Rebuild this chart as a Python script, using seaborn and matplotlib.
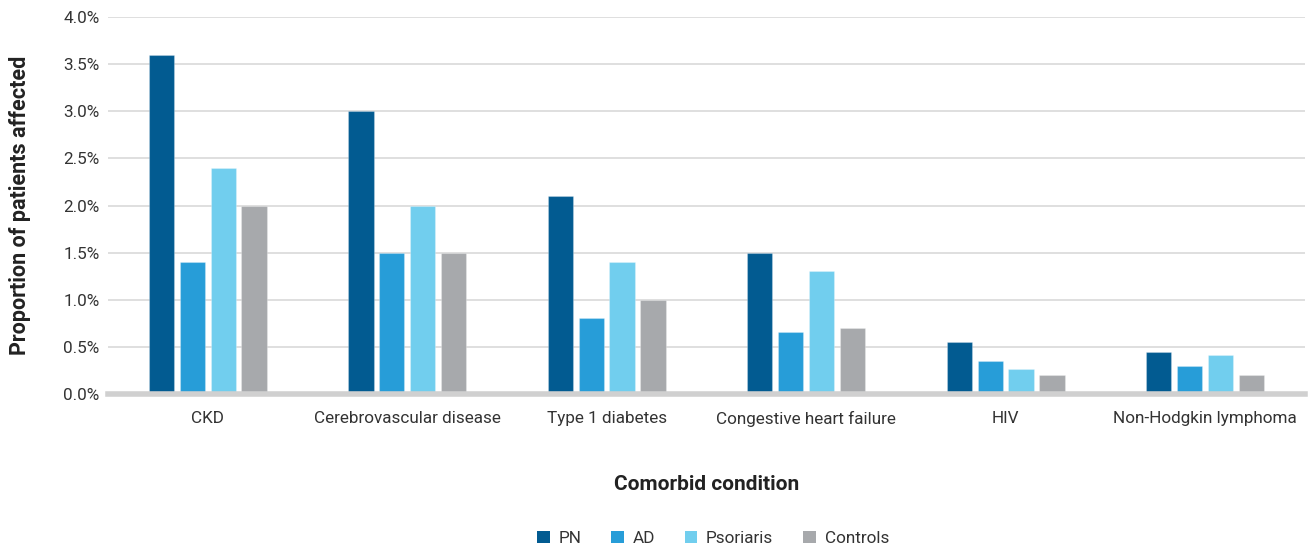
import matplotlib
matplotlib.use("Agg")
import matplotlib.pyplot as plt
import seaborn as sns
import pandas as pd
from matplotlib.patches import Patch
from matplotlib.ticker import FuncFormatter

categories = ["CKD", "Cerebrovascular disease", "Type 1 diabetes",
              "Congestive heart failure", "HIV", "Non-Hodgkin lymphoma"]
series = ["PN", "AD", "Psoriaris", "Controls"]
pn = [3.6, 3.0, 2.1, 1.5, 0.55, 0.45]
ad = [1.4, 1.5, 0.81, 0.66, 0.35, 0.30]
psoriaris = [2.4, 2.0, 1.4, 1.3, 0.265, 0.41]
controls = [2.0, 1.5, 1.0, 0.7, 0.2, 0.2]
yticks = [0.0, 0.5, 1.0, 1.5, 2.0, 2.5, 3.0, 3.5, 4.0]

colors = ["#025B91", "#279DD8", "#71CEEE", "#A7A9AC"]

rows = []
for s, vals in zip(series, [pn, ad, psoriaris, controls]):
    for c, v in zip(categories, vals):
        rows.append({"Condition": c, "Group": s, "Value": v})
df = pd.DataFrame(rows)

sns.set_theme(style="white")
plt.rcParams["font.family"] = ["Roboto", "DejaVu Sans"]

fig = plt.figure(figsize=(13.08, 5.48), dpi=100)
ax = fig.add_axes([0.0826, 0.281, 0.915, 0.688])

sns.barplot(data=df, x="Condition", y="Value", hue="Group",
            order=categories, hue_order=series, palette=colors,
            width=0.62, gap=0.18, ax=ax, legend=False, errorbar=None,
            saturation=1, linewidth=0.8, edgecolor="#ffffff40")

ax.set_ylim(0, 4.0)
ax.set_xlim(-0.5, len(categories) - 0.5)
ax.set_yticks(yticks)
ax.yaxis.set_major_formatter(FuncFormatter(lambda v, p: f"{v:.1f}%"))
ax.grid(axis="y", color="#D9D9D9", linewidth=1.2)
ax.set_axisbelow(True)
for sp in ["top", "right", "left"]:
    ax.spines[sp].set_visible(False)
ax.spines["bottom"].set_color("#D0D0D0")
ax.spines["bottom"].set_linewidth(4)
ax.tick_params(axis="both", length=0, labelsize=12.3, colors="#333333")
ax.tick_params(axis="x", pad=12)
ax.tick_params(axis="y", pad=6)

ax.set_xlabel("Comorbid condition", fontsize=15, fontweight="bold",
              color="#222222", va="center")
ax.xaxis.set_label_coords(0.5, -0.239)
ax.set_ylabel("Proportion of patients affected", fontsize=15.5,
              fontweight="bold", color="#222222", va="center")
ax.yaxis.set_label_coords(-0.0735, 0.5)

handles = [Patch(facecolor=c, edgecolor="none") for c in colors]
fig.legend(handles, series, loc="center", bbox_to_anchor=(0.545, 0.018),
           ncol=4, frameon=False, fontsize=12.3, handlelength=0.75,
           handleheight=0.75, handletextpad=0.5, columnspacing=1.75,
           labelcolor="#333333")

fig.savefig("out.png", dpi=100)
